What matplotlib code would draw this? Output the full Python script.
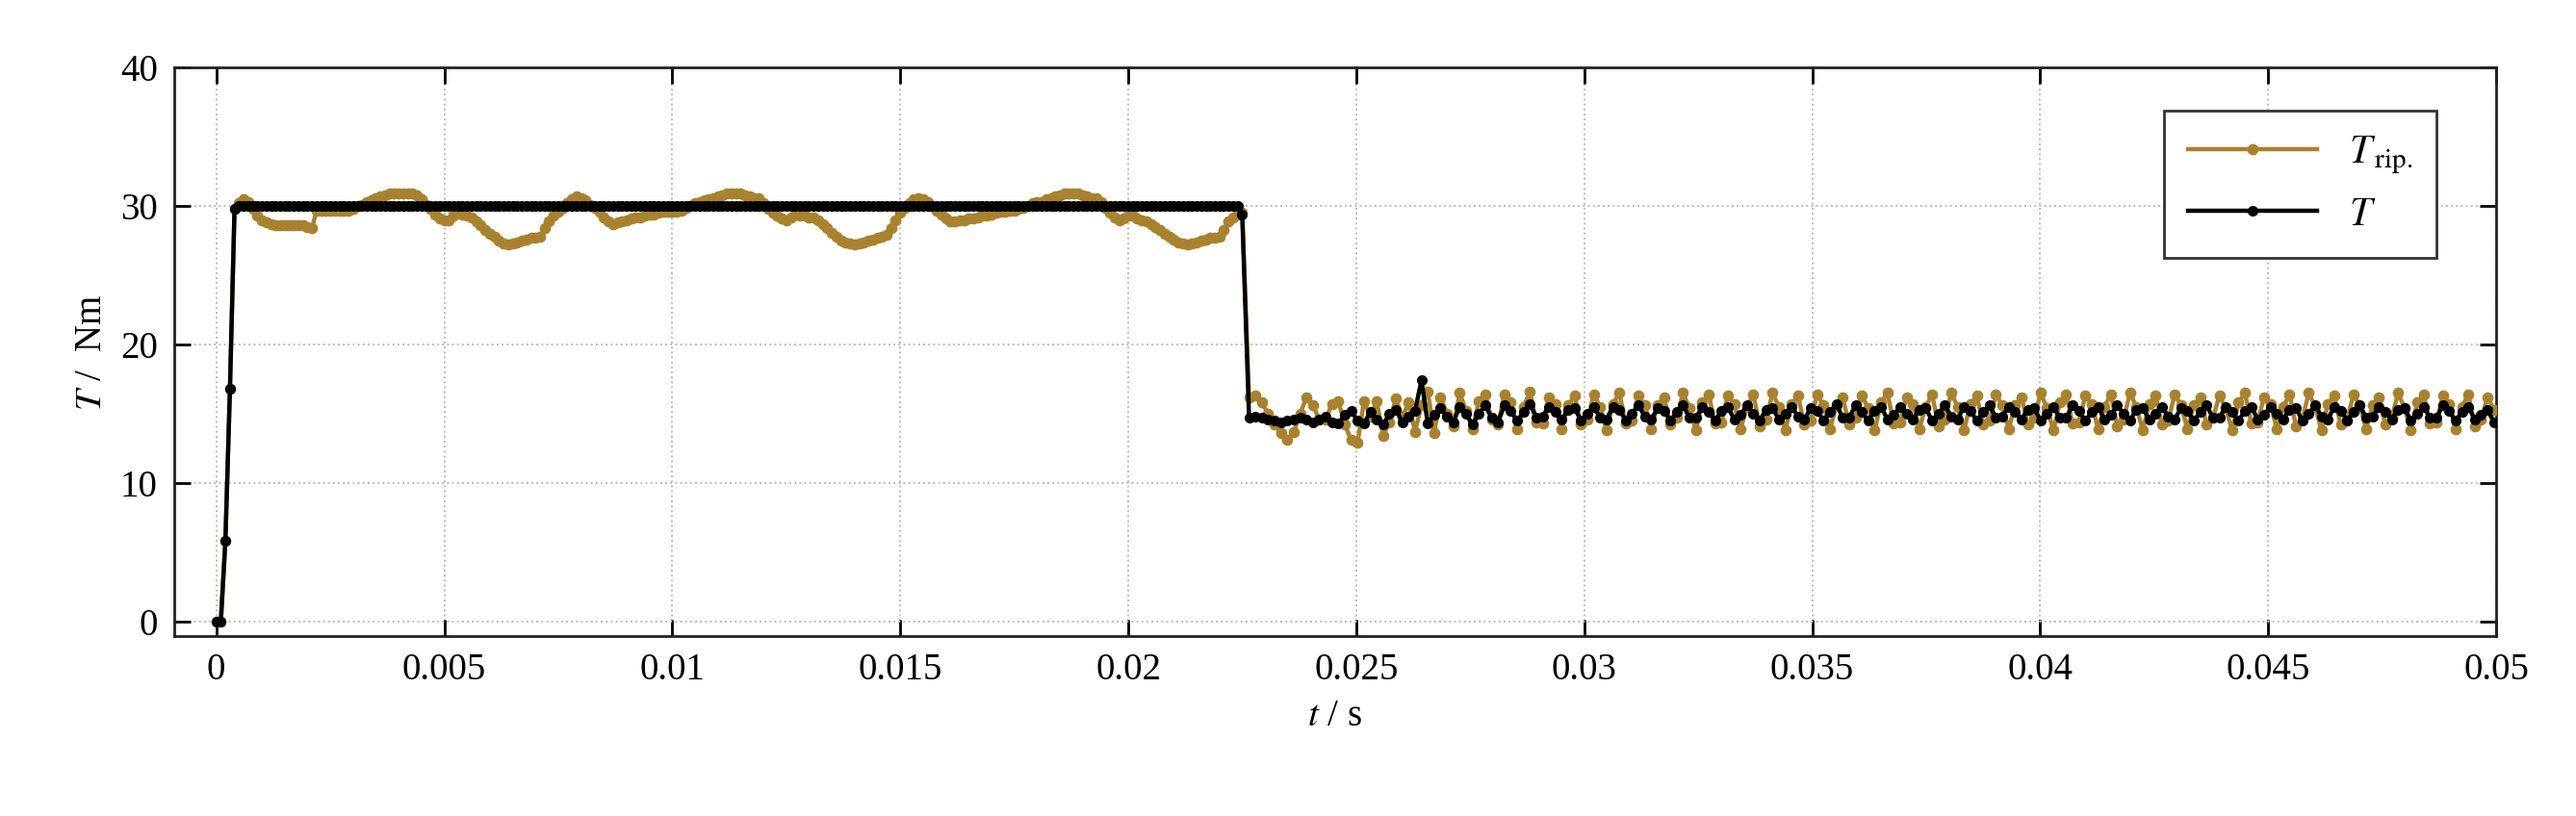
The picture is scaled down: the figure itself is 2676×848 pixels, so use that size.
import numpy as np
import matplotlib
matplotlib.use("Agg")
import matplotlib.pyplot as plt

plt.rcParams['font.family'] = ['Liberation Serif', 'DejaVu Serif']
plt.rcParams['mathtext.fontset'] = 'stix'

# ---- data ----
dt_a = 0.0001          # sampling of first segment
dt_b = 0.00014         # sampling of second segment
t_b0 = 0.02265

T_a = [0.0, 0.0, 5.8, 16.8, 29.8] + [30.0] * 220 + [29.4]
Trip_a = [0.0, 0.0, 5.8, 16.8, 29.8,
          30.2, 30.5, 30.3, 29.8, 29.3, 29.0, 28.8, 28.7, 28.6, 28.6, 28.6, 28.6, 28.6, 28.6, 28.6,
          28.5, 28.4, 29.7, 29.7, 29.7, 29.7, 29.7, 29.7, 29.7, 29.7, 29.8, 30.0, 30.1, 30.3, 30.4,
          30.6, 30.7, 30.8, 30.9, 30.9, 30.9, 30.9, 30.9, 30.9, 30.8, 30.5, 30.1, 29.8, 29.4, 29.1,
          29.0, 29.0, 29.3, 29.5, 29.4, 29.3, 29.2, 28.9, 28.6, 28.3, 28.0, 27.8, 27.5, 27.3, 27.2,
          27.3, 27.4, 27.5, 27.6, 27.7, 27.7, 27.8, 28.4, 28.9, 29.3, 29.6, 29.9, 30.2, 30.5, 30.7,
          30.6, 30.4, 30.1, 29.9, 29.6, 29.2, 28.9, 28.7, 28.8, 28.9, 29.0, 29.1, 29.2, 29.2, 29.3,
          29.4, 29.4, 29.5, 29.6, 29.6, 29.6, 29.6, 29.7, 29.9, 30.0, 30.2, 30.3, 30.4, 30.5, 30.6,
          30.7, 30.8, 30.9, 30.9, 30.9, 30.9, 30.8, 30.7, 30.6, 30.6, 30.2, 29.8, 29.5, 29.3, 29.1,
          29.0, 29.2, 29.4, 29.3, 29.3, 29.2, 29.2, 29.0, 28.7, 28.4, 28.1, 27.8, 27.5, 27.4, 27.3,
          27.2, 27.3, 27.4, 27.5, 27.6, 27.7, 27.8, 27.9, 28.4, 29.0, 29.5, 29.9, 30.2, 30.5, 30.6,
          30.5, 30.3, 30.0, 29.7, 29.4, 29.1, 28.9, 28.9, 29.0, 29.0, 29.1, 29.1, 29.2, 29.3, 29.3,
          29.4, 29.5, 29.6, 29.6, 29.7, 29.7, 29.8, 29.9, 30.0, 30.2, 30.3, 30.3, 30.5, 30.6, 30.7,
          30.8, 30.9, 30.9, 30.9, 30.9, 30.8, 30.7, 30.6, 30.6, 30.3, 29.9, 29.5, 29.2, 29.0, 29.1,
          29.3, 29.3, 29.1, 29.0, 28.9, 28.7, 28.5, 28.3, 28.0, 27.8, 27.6, 27.4, 27.3, 27.2, 27.3,
          27.4, 27.5, 27.6, 27.7, 27.7, 27.8, 28.3, 28.9, 29.2, 29.4, 29.5]

T_b = [14.7, 14.8, 14.7, 14.6, 14.5, 14.4, 14.5, 14.6, 14.7, 14.6, 14.4, 14.6, 14.8, 14.4, 14.3, 14.9,
       15.2, 14.5, 14.3, 15.1, 14.6, 14.2, 15.0, 15.3, 14.4, 14.8, 15.2, 17.4, 14.3, 14.9, 15.4, 14.8,
       14.4, 15.5, 15.0, 14.2, 15.0, 15.6, 14.7, 14.4, 15.6, 15.2, 14.5, 15.1, 15.7, 14.7, 14.8, 15.5,
       15.1, 14.6, 15.3, 15.4, 14.5, 15.0, 15.5, 14.7, 14.6, 15.5, 15.3, 14.5, 15.0, 15.6, 14.8, 14.6,
       15.4, 15.2, 14.5, 15.1, 15.6, 14.7, 14.7, 15.5, 15.1, 14.5, 15.2, 15.5, 14.6, 14.9, 15.6, 15.0,
       14.5, 15.3, 15.4, 14.6, 15.0, 15.5, 14.8, 14.6, 15.4, 15.2, 14.5, 15.1, 15.7, 14.7, 14.7, 15.6,
       15.1, 14.5, 15.2, 15.5, 14.6, 14.9, 15.5, 15.0, 14.6, 15.3, 15.4, 14.5, 15.0, 15.6, 14.8, 14.6,
       15.5, 15.2, 14.5, 15.1, 15.6, 14.7, 14.8, 15.5, 15.1, 14.6, 15.3, 15.4, 14.5, 15.0, 15.5, 14.7,
       14.7, 15.6, 15.2, 14.5, 15.1, 15.5, 14.6, 14.9, 15.6, 15.0, 14.5, 15.3, 15.4, 14.6, 15.0, 15.5,
       14.8, 14.6, 15.4, 15.2, 14.5, 15.1, 15.6, 14.7, 14.7, 15.5, 15.1, 14.5, 15.2, 15.5, 14.6, 14.9,
       15.5, 15.0, 14.6, 15.3, 15.4, 14.5, 15.0, 15.6, 14.8, 14.6, 15.5, 15.2, 14.5, 15.1, 15.6, 14.7,
       14.8, 15.5, 15.1, 14.6, 15.3, 15.4, 14.5, 15.0, 15.5, 14.7, 14.7, 15.6, 15.2, 14.5, 15.1, 15.5,
       14.6, 14.9, 15.3, 14.4]
Trip_b = [16.2, 16.3, 15.8, 15.0, 14.2, 13.6, 13.1, 13.7, 15.0, 16.2, 15.6, 14.6, 14.6, 15.7, 15.9, 14.2,
          13.1, 12.9, 15.9, 14.8, 15.9, 13.4, 14.4, 16.1, 14.7, 15.8, 13.7, 15.6, 16.6, 13.6, 16.2, 15.0,
          14.1, 16.5, 15.2, 13.9, 15.9, 16.4, 14.6, 14.2, 16.4, 15.8, 13.9, 15.5, 16.6, 14.4, 14.3, 16.2,
          15.7, 13.9, 15.6, 16.3, 14.2, 14.6, 16.4, 15.5, 13.8, 15.7, 16.5, 14.3, 14.5, 16.3, 15.6, 13.9,
          15.6, 16.2, 14.2, 14.7, 16.5, 15.4, 13.8, 15.8, 16.4, 14.3, 14.4, 16.3, 15.7, 13.9, 15.5, 16.4,
          14.1, 14.6, 16.5, 15.5, 13.8, 15.7, 16.3, 14.2, 14.5, 16.4, 15.6, 13.9, 15.6, 16.2, 14.2, 14.7,
          16.3, 15.4, 13.8, 15.8, 16.5, 14.3, 14.4, 16.2, 15.7, 13.9, 15.5, 16.4, 14.1, 14.6, 16.5, 15.5,
          13.8, 15.7, 16.3, 14.2, 14.5, 16.4, 15.6, 13.9, 15.6, 16.2, 14.2, 14.7, 16.5, 15.4, 13.8, 15.8,
          16.4, 14.3, 14.4, 16.3, 15.7, 13.9, 15.5, 16.4, 14.1, 14.6, 16.5, 15.5, 13.8, 15.7, 16.3, 14.2,
          14.5, 16.4, 15.6, 13.9, 15.6, 16.2, 14.2, 14.7, 16.3, 15.4, 13.8, 15.8, 16.5, 14.3, 14.4, 16.2,
          15.7, 13.9, 15.5, 16.4, 14.1, 14.6, 16.5, 15.5, 13.8, 15.7, 16.3, 14.2, 14.5, 16.4, 15.6, 13.9,
          15.6, 16.2, 14.2, 14.7, 16.5, 15.4, 13.8, 15.8, 16.4, 14.3, 14.4, 16.3, 15.7, 13.9, 15.5, 16.4,
          14.1, 14.6, 16.2, 15.3]

xticks = [0, 0.005, 0.01, 0.015, 0.02, 0.025, 0.03, 0.035, 0.04, 0.045, 0.05]
xticklabels = ['0', '0.005', '0.01', '0.015', '0.02', '0.025', '0.03', '0.035', '0.04', '0.045', '0.05']
yticks = [0, 10, 20, 30, 40]

# ---- assemble time vectors ----
nb = min(len(T_b), len(Trip_b))
t_a = np.arange(len(T_a)) * dt_a
t_b = t_b0 + np.arange(nb) * dt_b
t = np.concatenate([t_a, t_b])
T = np.concatenate([T_a, T_b[:nb]])
tr_a = np.arange(len(Trip_a)) * dt_a
Trip = np.concatenate([Trip_a, Trip_b[:nb]])
t_rip = np.concatenate([tr_a, t_b])

fig = plt.figure(figsize=(13.38, 4.24), dpi=200)
ax = fig.add_axes([0.0675, 0.22, 0.9015, 0.697])

brown = '#A8822F'
ax.plot(t_rip, Trip, color=brown, lw=1.6, marker='o', ms=3.2, label=r'$T_{\,\mathrm{rip.}}$', zorder=3)
ax.plot(t, T, color='black', lw=1.6, marker='o', ms=3.0, label=r'$T$', zorder=4)

ax.set_xlim(-0.00093, 0.05)
ax.set_ylim(-1.1, 40)
ax.set_xticks(xticks)
ax.set_xticklabels(xticklabels)
ax.set_yticks(yticks)
ax.grid(True, color='#bbbbbb', ls=':', lw=0.7)
ax.tick_params(direction='in', length=6, width=1.0, top=True, right=True, labelsize=14, pad=6)
for s in ax.spines.values():
    s.set_linewidth(1.0)
    s.set_color('#222222')

ax.set_xlabel(r'$t$ / s', fontsize=14)
ax.set_ylabel(r'$T$ /  Nm', fontsize=14)

leg = ax.legend(loc='upper right', fontsize=15, frameon=True, fancybox=False,
                edgecolor='#333333', framealpha=1, handlelength=3.2, borderpad=0.6,
                bbox_to_anchor=(0.983, 0.96))
leg.get_frame().set_linewidth(1.0)

fig.savefig('out.png', dpi=200)
